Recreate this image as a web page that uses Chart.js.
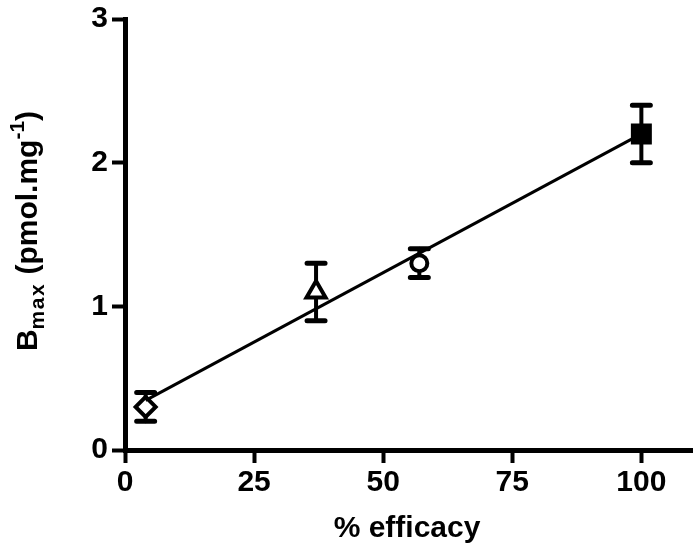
<!DOCTYPE html>
<html><head><meta charset="utf-8">
<script src="https://cdn.jsdelivr.net/npm/chart.js@4/dist/chart.umd.min.js"></script>
<style>html,body{margin:0;padding:0;background:#fff}canvas{display:block}</style>
</head><body>
<canvas id="c" width="693" height="545"></canvas>
<script>
// Data
const efficacy = [4, 37, 57, 100];          // % efficacy (x)
const bmax = [0.3, 1.1, 1.3, 2.2];          // Bmax (pmol.mg-1)
const bmaxErr = [0.1, 0.2, 0.1, 0.2];       // error bar half-lengths
const markerStyles = ['rectRot', 'triangle', 'circle', 'rect'];
const markerFill = ['#ffffff', '#ffffff', '#ffffff', '#000000'];
const markerRadius = [10, 11, 8, 12];
const fitX = [4, 100];
const fitY = [0.345, 2.2];
const xTicks = [0, 25, 50, 75, 100];
const yTicks = [0, 1, 2, 3];
const xTitle = '% efficacy';

const FONT = "'Liberation Sans', Arial, Helvetica, sans-serif";

const errorBars = {
  id: 'errorBars',
  beforeDatasetsDraw(chart) {
    const {ctx, scales: {x, y}} = chart;
    ctx.save();
    ctx.strokeStyle = '#000';
    ctx.lineCap = 'round';
    efficacy.forEach((v, i) => {
      const px = x.getPixelForValue(v);
      const top = y.getPixelForValue(bmax[i] + bmaxErr[i]);
      const bot = y.getPixelForValue(bmax[i] - bmaxErr[i]);
      ctx.lineWidth = 4;
      ctx.beginPath(); ctx.moveTo(px, top); ctx.lineTo(px, bot); ctx.stroke();
      ctx.lineWidth = 5;
      ctx.beginPath();
      ctx.moveTo(px - 9, top); ctx.lineTo(px + 9, top);
      ctx.moveTo(px - 9, bot); ctx.lineTo(px + 9, bot);
      ctx.stroke();
    });
    ctx.restore();
  }
};

const titles = {
  id: 'titles',
  afterDraw(chart) {
    const {ctx} = chart;
    ctx.save();
    ctx.fillStyle = '#000';
    // x title
    ctx.font = 'bold 30px ' + FONT;
    ctx.textAlign = 'center';
    ctx.textBaseline = 'alphabetic';
    ctx.fillText(xTitle, 407, 537);
    // y title with sub/superscript
    const big = 'bold 30px ' + FONT;
    const small = 'bold 21px ' + FONT;
    const parts = [
      {t: 'B', f: big, dy: 0},
      {t: 'max', f: small, dy: 7, ls: 1.5},
      {t: ' (pmol.mg', f: big, dy: 0},
      {t: '-1', f: small, dy: -13},
      {t: ')', f: big, dy: 0}
    ];
    let total = 0;
    parts.forEach(p => {
      ctx.font = p.f;
      p.w = ctx.measureText(p.t).width + (p.ls ? p.ls * p.t.length : 0);
      total += p.w;
    });
    ctx.translate(37, 231);
    ctx.rotate(-Math.PI / 2);
    ctx.textAlign = 'left';
    let cx = -total / 2;
    parts.forEach(p => {
      ctx.font = p.f;
      if (p.ls) {
        for (const ch of p.t) {
          ctx.fillText(ch, cx, p.dy);
          cx += ctx.measureText(ch).width + p.ls;
        }
      } else {
        ctx.fillText(p.t, cx, p.dy);
        cx += p.w;
      }
    });
    ctx.restore();
  }
};

const axisCommon = {
  border: {display: true, color: '#000', width: 5},
  grid: {display: true, drawOnChartArea: false, drawTicks: true, tickLength: 13, tickWidth: 4, tickColor: '#000', color: '#000'},
  ticks: {color: '#000', font: {family: FONT, size: 30, weight: 'bold'}}
};

new Chart(document.getElementById('c'), {
  type: 'scatter',
  data: {
    datasets: [
      {
        type: 'line',
        data: fitX.map((v, i) => ({x: v, y: fitY[i]})),
        borderColor: '#000',
        borderWidth: 3,
        pointRadius: 0,
        fill: false,
        order: 0
      },
      {
        data: efficacy.map((v, i) => ({x: v, y: bmax[i]})),
        pointStyle: markerStyles,
        pointRadius: markerRadius,
        pointBackgroundColor: markerFill,
        pointBorderColor: '#000',
        pointBorderWidth: 4,
        showLine: false,
        order: 1
      }
    ]
  },
  options: {
    responsive: false,
    animation: false,
    layout: {autoPadding: false, padding: {left: 0, right: 0, top: 19, bottom: 0}},
    plugins: {legend: {display: false}, tooltip: {enabled: false}},
    scales: {
      x: {
        type: 'linear', min: 0, max: 110,
        border: axisCommon.border, grid: axisCommon.grid,
        ticks: Object.assign({}, axisCommon.ticks, {padding: 2}),
        afterBuildTicks: s => { s.ticks = xTicks.map(v => ({value: v})); },
        afterFit: s => { s.height = 95; s.paddingLeft = 0; s.paddingRight = 0; }
      },
      y: {
        type: 'linear', min: 0, max: 3,
        border: axisCommon.border, grid: axisCommon.grid,
        ticks: Object.assign({}, axisCommon.ticks, {padding: 4}),
        afterBuildTicks: s => { s.ticks = yTicks.map(v => ({value: v})); },
        afterFit: s => { s.width = 125; s.paddingTop = 0; s.paddingBottom = 0; }
      }
    }
  },
  plugins: [errorBars, titles]
});
</script>
</body></html>
